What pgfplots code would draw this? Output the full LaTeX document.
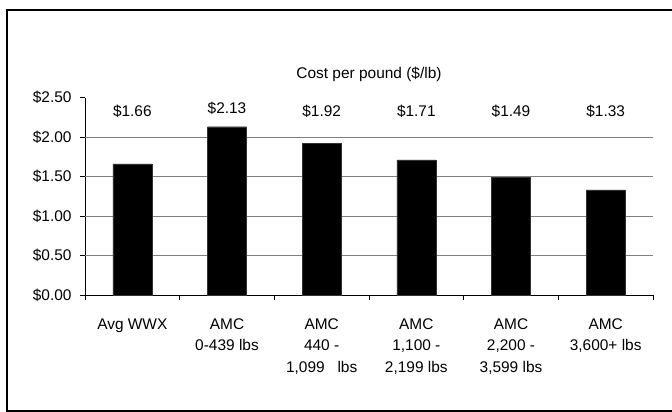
\documentclass[border=0pt]{standalone}
\usepackage{fontspec}
\setmainfont{Liberation Sans}
\usepackage{pgfplots}
\pgfplotsset{compat=1.18}
\begin{document}
\begin{tikzpicture}
\path[use as bounding box] (0,0) rectangle (672bp,-412bp);
\draw[line width=2bp] (680bp,-10bp) -- (6.5bp,-10bp) -- (6.5bp,-411bp) -- (680bp,-411bp);
\begin{axis}[
  at={(85bp,-295bp)}, anchor=south west,
  scale only axis, width=568bp, height=197.5bp,
  xmin=-0.5, xmax=5.5, ymin=0, ymax=2.5,
  axis x line*=bottom, axis y line*=left,
  axis line style={-, black, line width=0.8bp},
  font=\fontsize{15.5}{21.5}\selectfont,
  /pgf/number format/assume math mode=true,
  title={Cost per pound (\$/lb)},
  title style={at={(0.5,1)}, anchor=center, yshift=17.5bp},
  xtick={0,1,2,3,4,5},
  xticklabels={{Avg WWX},{AMC\\0-439 lbs},{AMC\\440 -\\1,099\ \ \ lbs},{AMC\\1,100 -\\2,199 lbs},{AMC\\2,200 -\\3,599 lbs},{AMC\\3,600+ lbs}},
  xticklabel style={align=center, yshift=-15bp},
  yticklabel style={xshift=-5bp},
  minor xtick={-0.5,0.5,1.5,2.5,3.5,4.5,5.5},
  tick align=outside,
  major tick length=5bp, minor tick length=5bp,
  x tick style={draw=none},
  minor x tick style={draw=black, line width=0.8bp},
  ytick={0,0.5,1,1.5,2,2.5},
  yticklabels={\$0.00,\$0.50,\$1.00,\$1.50,\$2.00,\$2.50},
  y tick style={black, line width=0.8bp},
  extra y ticks={0.5,1,1.5,2},
  extra y tick labels={},
  extra y tick style={grid=major, major tick length=0pt},
  major grid style={gray, line width=0.8bp},
  clip=false,
]
\addplot[ybar, bar width=39bp, fill=black, draw=black!80] coordinates {(0,1.66) (1,2.13) (2,1.92) (3,1.71) (4,1.49) (5,1.33)};
\addplot[only marks, mark=none, nodes near coords, point meta=explicit symbolic,
  every node near coord/.append style={anchor=center}]
  coordinates {(0,2.32) [\$1.66] (1,2.36) [\$2.13] (2,2.32) [\$1.92] (3,2.32) [\$1.71] (4,2.32) [\$1.49] (5,2.32) [\$1.33]};
\end{axis}
\end{tikzpicture}
\end{document}
